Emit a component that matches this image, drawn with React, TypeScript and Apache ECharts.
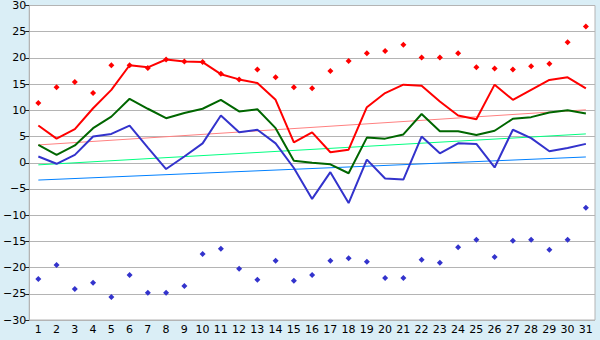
import React, { useEffect, useRef } from "react";
import * as echarts from "echarts";

const days = Array.from({ length: 31 }, (_, i) => String(i + 1));

const maxTemp = [7.1, 4.6, 6.4, 10.4, 13.9, 18.6, 18.2, 19.7, 19.3, 19.2, 16.9, 15.9, 15.2, 12.0, 3.9, 5.8, 2.0, 2.5, 10.6, 13.3, 14.9, 14.7, 11.7, 9.0, 8.3, 14.9, 12.0, 13.9, 15.8, 16.3, 14.2];
const meanTemp = [3.4, 1.5, 3.3, 6.6, 8.8, 12.2, 10.3, 8.5, 9.5, 10.3, 12.0, 9.8, 10.2, 6.6, 0.4, 0.0, -0.3, -2.0, 4.8, 4.6, 5.4, 9.3, 6.0, 6.0, 5.3, 6.1, 8.4, 8.7, 9.6, 10.0, 9.4];
const minTemp = [1.2, -0.2, 1.5, 5.0, 5.5, 7.1, 2.9, -1.2, 1.2, 3.7, 9.0, 5.8, 6.3, 3.7, -1.0, -6.9, -1.8, -7.7, 0.6, -3.0, -3.2, 5.0, 1.8, 3.7, 3.6, -0.9, 6.3, 4.7, 2.2, 2.8, 3.6];
const recordHigh = [11.4, 14.4, 15.4, 13.3, 18.6, 18.6, 18.1, 19.7, 19.3, 19.2, 17.0, 15.9, 17.8, 16.3, 14.4, 14.2, 17.5, 19.4, 20.9, 21.3, 22.5, 20.1, 20.1, 20.9, 18.2, 18.0, 17.8, 18.4, 18.9, 23.0, 26.0];
const recordLow = [-22.2, -19.5, -24.1, -22.9, -25.6, -21.4, -24.8, -24.8, -23.5, -17.4, -16.4, -20.2, -22.3, -18.7, -22.5, -21.4, -18.7, -18.2, -18.9, -22.0, -22.0, -18.5, -19.1, -16.1, -14.7, -18.0, -14.9, -14.7, -16.6, -14.7, -8.6];
// trend lines: start (day 1) and end (day 31) values
const maxTrend = [3.4, 10.1];
const meanTrend = [-0.4, 5.5];
const minTrend = [-3.3, 1.1];

const yTicks = { min: -30, max: 30, interval: 5 };

function trendData(ends: number[]) {
  return days.map((_, i) => (i === 0 ? ends[0] : i === days.length - 1 ? ends[1] : null));
}

export default function App() {
  const ref = useRef<HTMLDivElement>(null);
  useEffect(() => {
    document.body.style.margin = "0";
    const chart = echarts.init(ref.current!, undefined, { renderer: "svg" });
    const font = "DejaVu Sans";
    const lineSeries = (name: string, data: any[], color: string, width: number, z: number) => ({
      name,
      type: "line",
      data,
      symbol: "none",
      connectNulls: true,
      lineStyle: { color, width },
      itemStyle: { color },
      z,
    });
    chart.setOption({
      animation: false,
      backgroundColor: "#daeef6",
      grid: {
        left: 27,
        right: 5,
        top: 5,
        bottom: 20,
        show: true,
        backgroundColor: "#ffffff",
        borderColor: "#b4b4b4",
        borderWidth: 1,
      },
      xAxis: {
        type: "category",
        data: days,
        boundaryGap: true,
        axisLine: { lineStyle: { color: "#b4b4b4" } },
        axisTick: { alignWithLabel: true, length: 5, lineStyle: { color: "#222" } },
        axisLabel: { color: "#000", fontSize: 11, fontFamily: font, margin: 4, interval: 0 },
        splitLine: { show: false },
      },
      yAxis: {
        type: "value",
        min: yTicks.min,
        max: yTicks.max,
        interval: yTicks.interval,
        axisLine: { show: true, lineStyle: { color: "#b4b4b4" } },
        axisTick: { show: true, length: 4, lineStyle: { color: "#222" } },
        axisLabel: {
          color: "#000",
          fontSize: 11,
          fontFamily: font,
          margin: 3,
          formatter: (v: number) => String(v).replace("-", "\u2212"),
        },
        splitLine: { lineStyle: { color: "#b4b4b4", width: 1 } },
      },
      series: [
        lineSeries("maxTrend", trendData(maxTrend), "#ff8080", 1, 1),
        lineSeries("meanTrend", trendData(meanTrend), "#00ff80", 1, 1),
        lineSeries("minTrend", trendData(minTrend), "#0080ff", 1, 1),
        lineSeries("max", maxTemp, "#ff0000", 2, 3),
        lineSeries("mean", meanTemp, "#006600", 2, 3),
        lineSeries("min", minTemp, "#3333cc", 2, 3),
        {
          name: "recordHigh",
          type: "scatter",
          data: recordHigh,
          symbol: "diamond",
          symbolSize: 6,
          itemStyle: { color: "#ff0000", opacity: 1 },
          z: 4,
        },
        {
          name: "recordLow",
          type: "scatter",
          data: recordLow,
          symbol: "diamond",
          symbolSize: 6,
          itemStyle: { color: "#3333cc", opacity: 1 },
          z: 4,
        },
      ],
    });
    return () => chart.dispose();
  }, []);
  return <div ref={ref} style={{ width: 600, height: 340, position: "absolute", left: 0, top: 0 }} />;
}
